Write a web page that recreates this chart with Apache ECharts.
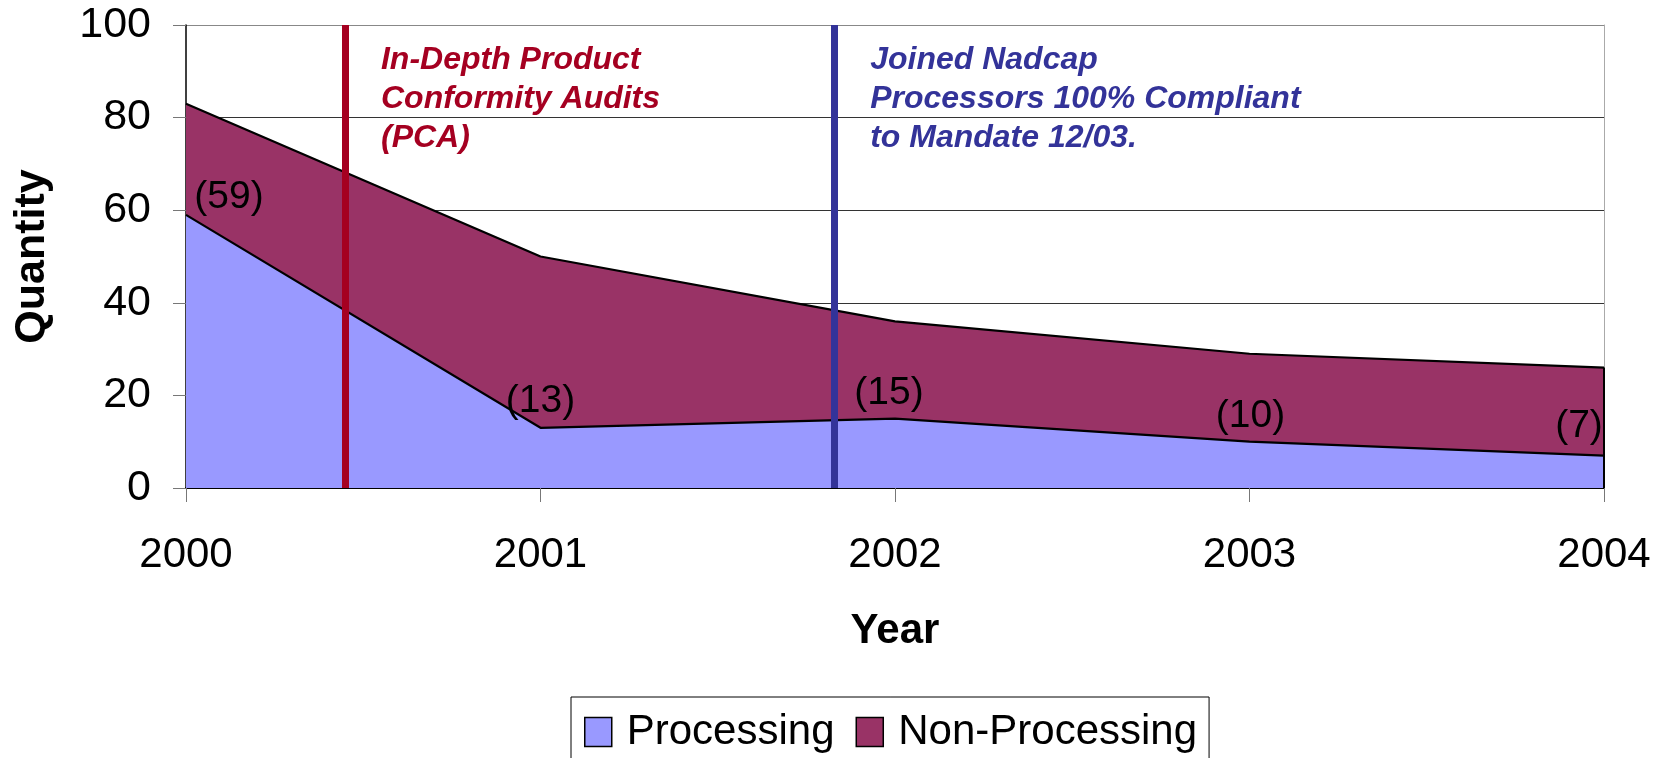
<!DOCTYPE html>
<html>
<head>
<meta charset="utf-8">
<script src="https://cdn.jsdelivr.net/npm/echarts@6/dist/echarts.min.js"></script>
<style>
  html, body { margin: 0; padding: 0; background: #fff; }
  #chart { width: 1669px; height: 758px; }
</style>
</head>
<body>
<div id="chart"></div>
<script>
// data
const years = [2000, 2001, 2002, 2003, 2004];
const processing = [59, 13, 15, 10, 7];
const nonProcessing = [24, 37, 21, 19, 19];
const yTicks = [0, 20, 40, 60, 80, 100];
const events = [
  { x: 2000.45, textX: 2000.55, text: 'In-Depth Product\nConformity Audits\n(PCA)', color: '#A50021' },
  { x: 2001.83, textX: 2001.93, text: 'Joined Nadcap\nProcessors 100% Compliant\nto Mandate 12/03.', color: '#333399' }
];
// label nudges so the (n) tags sit like in the original
const labelOffsets = [[43, 7], [0, -2], [-6, -1], [1, -1], [-25, -5]];

const FONT = 'Liberation Sans';

const chart = echarts.init(document.getElementById('chart'));

// value x axis can't stack on y, so the top band is drawn as the running total
const procData = years.map((y, i) => ({
  value: [y, processing[i]],
  label: { offset: labelOffsets[i] }
}));
const totalData = years.map((y, i) => [y, processing[i] + nonProcessing[i]]);
const last = years.length - 1;

chart.setOption({
  animation: false,
  textStyle: { fontFamily: FONT },
  grid: { left: 186, right: 65, top: 25, bottom: 270 },
  xAxis: {
    type: 'value',
    min: years[0],
    max: years[last],
    interval: 1,
    name: 'Year',
    nameLocation: 'middle',
    nameGap: 122,
    nameTextStyle: { fontSize: 42, fontWeight: 'bold', color: '#000', fontFamily: FONT },
    axisLine: { onZero: false, lineStyle: { color: '#000', width: 2 } },
    axisTick: { show: true, length: 14, inside: false, lineStyle: { color: '#777', width: 1 } },
    axisLabel: { fontSize: 42, color: '#000', margin: 46, formatter: v => String(v), fontFamily: FONT },
    splitLine: { show: false }
  },
  yAxis: [{
    type: 'value',
    min: yTicks[0],
    max: yTicks[yTicks.length - 1],
    interval: 20,
    name: 'Quantity',
    nameLocation: 'middle',
    nameRotate: 90,
    nameGap: 132,
    nameTextStyle: { fontSize: 43, fontWeight: 'bold', color: '#000', fontFamily: FONT },
    axisLine: { show: true, lineStyle: { color: '#000', width: 1.5 } },
    axisTick: { show: true, length: 13, lineStyle: { color: '#777' } },
    axisLabel: { fontSize: 43, color: '#000', margin: 35, fontFamily: FONT },
    splitLine: { show: true, lineStyle: { color: ['#333', '#333', '#333', '#333', '#333', '#888'], width: 1.2 } }
  }, {
    type: 'value',
    position: 'right',
    min: yTicks[0],
    max: yTicks[yTicks.length - 1],
    interval: 20,
    axisLine: { show: true, lineStyle: { color: '#aaa', width: 1 } },
    axisTick: { show: false },
    axisLabel: { show: false },
    splitLine: { show: false }
  }],
  legend: {
    left: 571,
    top: 697,
    padding: [14, 12, 14, 13],
    borderColor: '#000',
    borderWidth: 1,
    itemWidth: 27,
    itemHeight: 29,
    itemGap: 21,
    icon: 'rect',
    itemStyle: { borderColor: '#000', borderWidth: 1.5 },
    textStyle: { fontSize: 42, color: '#000', padding: [0, 0, 0, 10], fontFamily: FONT },
    data: ['Processing', 'Non-Processing']
  },
  series: [{
    name: 'Non-Processing',
    type: 'line',
    data: totalData,
    showSymbol: false,
    symbol: 'none',
    itemStyle: { color: '#993366' },
    lineStyle: { color: '#000', width: 2.2 },
    areaStyle: { color: '#993366', opacity: 1 },
    z: 2,
    markLine: {
      silent: true,
      symbol: 'none',
      label: { show: false },
      z: 10,
      data: events.map(e => ({ xAxis: e.x, lineStyle: { color: e.color, width: 7, type: 'solid' } })).concat([[
        { coord: [years[last], 0], lineStyle: { color: '#000', width: 2, type: 'solid' } },
        { coord: [years[last], totalData[last][1]] }
      ]])
    },
    markPoint: {
      silent: true,
      symbol: 'rect',
      symbolSize: 0,
      data: events.map(e => ({
        coord: [e.textX, 96.6],
        label: {
          show: true,
          position: 'right',
          distance: 0,
          align: 'left',
          verticalAlign: 'top',
          formatter: e.text,
          color: e.color,
          fontSize: 32,
          lineHeight: 39,
          fontStyle: 'italic',
          fontWeight: 'bold',
          fontFamily: FONT
        }
      }))
    }
  }, {
    name: 'Processing',
    type: 'line',
    data: procData,
    showSymbol: true,
    symbol: 'circle',
    symbolSize: 0,
    itemStyle: { color: '#9999FF' },
    lineStyle: { color: '#000', width: 2.2 },
    areaStyle: { color: '#9999FF', opacity: 1 },
    label: {
      show: true,
      position: 'top',
      fontSize: 39,
      color: '#000',
      fontFamily: FONT,
      formatter: p => '(' + p.value[1] + ')'
    },
    z: 3
  }]
});
</script>
</body>
</html>
